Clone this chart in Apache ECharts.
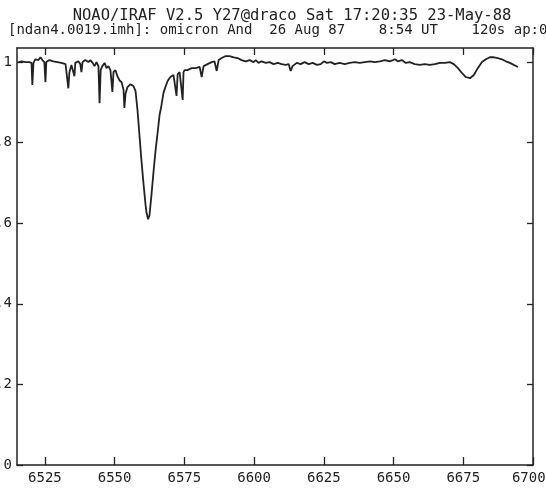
<!DOCTYPE html>
<html>
<head>
<meta charset="utf-8">
<script src="https://cdn.jsdelivr.net/npm/echarts@6/dist/echarts.min.js"></script>
<style>
  html, body { margin: 0; padding: 0; background: #ffffff; }
  #chart { width: 546px; height: 491px; }
</style>
</head>
<body>
<div id="chart"></div>
<script>
// Header lines of the IRAF plot
const headerLine1 = 'NOAO/IRAF V2.5 Y27@draco Sat 17:20:35 23-May-88';
const headerLine2 = '[ndan4.0019.imh]: omicron And  26 Aug 87    8:54 UT    120s ap:0';

// Axis ticks and labels
const xTicks = [6525, 6550, 6575, 6600, 6625, 6650, 6675, 6700];
const xTickLabels = ['6525', '6550', '6575', '6600', '6625', '6650', '6675', '6700'];
const yTicks = [0, 0.2, 0.4, 0.6, 0.8, 1];
const yTickLabels = ['0', '.2', '.4', '.6', '.8', '1'];

// Spectrum: wavelength (Angstrom) and normalised flux
const wavelength = [
  6515.5, 6516.6, 6518.0, 6519.4, 6520.2, 6520.5, 6520.9, 6521.6, 6522.7, 6523.4,
  6524.1, 6524.8, 6525.2, 6525.5, 6526.6, 6528.0, 6529.5, 6530.9, 6532.4, 6533.1,
  6533.4, 6533.8, 6534.5, 6535.2, 6535.6, 6535.9, 6537.0, 6537.7, 6538.1, 6538.5,
  6539.5, 6540.6, 6541.3, 6542.1, 6542.8, 6543.5, 6544.2, 6544.6, 6545.0, 6545.6,
  6546.4, 6547.1, 6547.8, 6548.5, 6549.2, 6549.6, 6550.3, 6551.0, 6551.7, 6552.5,
  6553.2, 6553.5, 6553.9, 6554.6, 6555.7, 6556.8, 6557.5, 6558.2, 6558.9, 6559.6,
  6560.4, 6561.1, 6561.4, 6562.0, 6562.5, 6563.2, 6564.0, 6564.7, 6565.4, 6566.1,
  6566.8, 6567.5, 6568.3, 6569.0, 6570.0, 6571.1, 6571.8, 6572.2, 6572.6, 6573.3,
  6574.0, 6574.4, 6574.7, 6575.1, 6576.1, 6577.6, 6579.0, 6580.5, 6581.2, 6581.9,
  6583.3, 6584.8, 6585.8, 6586.6, 6587.3, 6588.4, 6589.8, 6591.2, 6592.7, 6594.1,
  6595.5, 6597.0, 6598.4, 6599.8, 6600.6, 6601.6, 6602.7, 6604.2, 6605.6, 6607.0,
  6608.5, 6609.9, 6611.3, 6612.4, 6613.1, 6613.8, 6615.3, 6616.7, 6618.1, 6619.6,
  6621.0, 6622.5, 6623.9, 6625.0, 6626.1, 6627.5, 6628.9, 6630.7, 6632.5, 6634.3,
  6636.1, 6637.9, 6639.7, 6641.5, 6643.3, 6645.1, 6646.9, 6648.7, 6650.5, 6651.5,
  6653.0, 6654.4, 6655.8, 6657.6, 6659.4, 6661.2, 6663.0, 6664.8, 6666.6, 6668.4,
  6670.2, 6671.6, 6673.1, 6674.5, 6675.9, 6677.4, 6678.8, 6680.2, 6681.7, 6683.1,
  6684.5, 6686.0, 6687.4, 6688.8, 6690.3, 6691.7, 6693.1, 6694.6
];
const flux = [
  1.000, 1.002, 1.000, 1.000, 0.998, 0.943, 0.998, 1.007, 1.005, 1.012,
  1.005, 1.000, 0.950, 1.000, 1.005, 1.002, 1.000, 0.998, 0.995, 0.998,
  0.935, 0.975, 0.993, 0.995, 0.965, 0.998, 1.002, 0.995, 0.975, 1.000,
  1.005, 1.000, 1.005, 0.998, 0.990, 1.000, 0.990, 0.898, 0.980, 0.990,
  0.998, 0.985, 0.990, 0.980, 0.926, 0.975, 0.980, 0.965, 0.955, 0.950,
  0.931, 0.886, 0.921, 0.938, 0.945, 0.940, 0.928, 0.881, 0.819, 0.757,
  0.695, 0.645, 0.628, 0.610, 0.620, 0.670, 0.732, 0.782, 0.824, 0.868,
  0.893, 0.923, 0.940, 0.953, 0.963, 0.968, 0.970, 0.916, 0.970, 0.975,
  0.973, 0.906, 0.975, 0.980, 0.980, 0.985, 0.985, 0.988, 0.963, 0.990,
  0.995, 1.000, 1.002, 0.978, 1.005, 1.010, 1.015, 1.015, 1.012, 1.010,
  1.005, 1.002, 1.005, 1.000, 1.005, 0.998, 1.002, 0.998, 1.000, 0.995,
  0.998, 0.995, 0.993, 0.995, 0.978, 0.990, 0.998, 0.995, 1.000, 0.995,
  0.998, 0.993, 0.995, 1.002, 0.998, 1.000, 0.995, 0.998, 0.995, 0.998,
  1.000, 0.998, 1.000, 1.002, 1.000, 1.002, 1.005, 1.002, 1.007, 1.002,
  1.005, 0.998, 1.000, 0.995, 0.993, 0.995, 0.993, 0.995, 0.998, 0.998,
  1.000, 0.995, 0.985, 0.973, 0.963, 0.960, 0.968, 0.985, 1.000, 1.007,
  1.012, 1.012, 1.010, 1.007, 1.002, 0.998, 0.993, 0.988
];

const ink = '#222222';
const mono = '"DejaVu Sans Mono", "Liberation Mono", monospace';
const X_MIN = 6515, X_MAX = 6700, Y_MIN = 0, Y_MAX = 1.035;

const chart = echarts.init(document.getElementById('chart'), null, { renderer: 'canvas' });

// frame lines stay on the grid edges instead of snapping to zero
const axisLine = { show: true, onZero: false, lineStyle: { color: ink, width: 1.5 } };
const tickStyle = { color: ink, width: 1.3 };

chart.setOption({
  animation: false,
  backgroundColor: '#ffffff',
  grid: { left: 17, right: 13, top: 48, bottom: 26, containLabel: false, outerBoundsMode: 'none' },
  graphic: [
    { type: 'text', x: 292, y: 8,
      style: { text: headerLine1, font: '15.5px ' + mono, fill: ink, align: 'center', verticalAlign: 'top' } },
    { type: 'text', x: 8, y: 23,
      style: { text: headerLine2, font: '14px ' + mono, fill: ink, align: 'left', verticalAlign: 'top' } }
  ],
  xAxis: [
    { type: 'value', position: 'bottom', min: X_MIN, max: X_MAX,
      axisLine: axisLine, splitLine: { show: false },
      axisTick: { show: true, inside: true, length: 8, customValues: xTicks, lineStyle: tickStyle },
      axisLabel: { show: true, customValues: xTicks, margin: 6,
        // the last label is nudged left so it stays on the page
        formatter: v => (v === X_MAX ? xTickLabels[xTicks.indexOf(v)] + ' ' : xTickLabels[xTicks.indexOf(v)]),
        fontFamily: mono, fontSize: 14, color: ink } },
    { type: 'value', position: 'top', min: X_MIN, max: X_MAX,
      axisLine: axisLine, splitLine: { show: false },
      axisTick: { show: true, inside: true, length: 7, customValues: xTicks, lineStyle: tickStyle },
      axisLabel: { show: false } }
  ],
  yAxis: [
    { type: 'value', position: 'left', min: Y_MIN, max: Y_MAX,
      axisLine: axisLine, splitLine: { show: false },
      axisTick: { show: true, inside: true, length: 6, customValues: yTicks, lineStyle: tickStyle },
      axisLabel: { show: true, customValues: yTicks, margin: 5,
        formatter: v => yTickLabels[yTicks.indexOf(v)],
        fontFamily: mono, fontSize: 14, color: ink } },
    { type: 'value', position: 'right', min: Y_MIN, max: Y_MAX,
      axisLine: axisLine, splitLine: { show: false },
      axisTick: { show: true, inside: true, length: 6, customValues: yTicks, lineStyle: tickStyle },
      axisLabel: { show: false } }
  ],
  series: [{
    type: 'line',
    xAxisIndex: 0,
    yAxisIndex: 0,
    data: wavelength.map((w, i) => [w, flux[i]]),
    showSymbol: false,
    smooth: false,
    lineStyle: { color: ink, width: 1.8 }
  }]
});
</script>
</body>
</html>
